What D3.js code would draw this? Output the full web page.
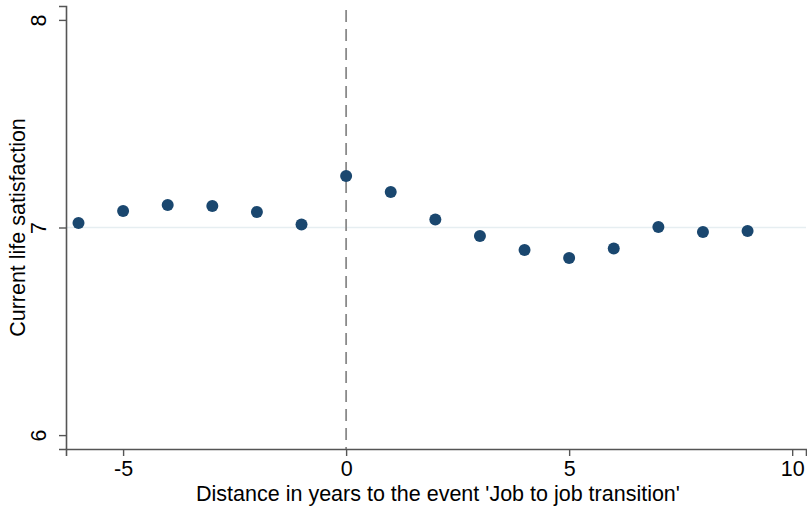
<!DOCTYPE html>
<html>
<head>
<meta charset="utf-8">
<script src="https://cdn.jsdelivr.net/npm/d3@7"></script>
<style>
  html, body { margin: 0; padding: 0; background: #fff; }
  svg { display: block; font-family: "Liberation Sans", Arial, Helvetica, sans-serif; }
</style>
</head>
<body>
<svg id="chart" width="807" height="507"></svg>
<script>
// Years relative to the event and mean life satisfaction in each year
const years = [-6, -5, -4, -3, -2, -1, 0, 1, 2, 3, 4, 5, 6, 7, 8, 9];
const satisfaction = [7.022, 7.080, 7.108, 7.104, 7.075, 7.014, 7.248, 7.171, 7.039, 6.959, 6.892, 6.853, 6.899, 7.002, 6.978, 6.983];
const xTicks = [-5, 0, 5, 10];
const yTicks = [6, 7, 8];
const referenceLevel = 7;
const eventYear = 0;
const xTitle = "Distance in years to the event 'Job to job transition'";
const yTitle = "Current life satisfaction";

(function draw() {
  const svg = d3.select("#chart");
  const plotLeft = 66, plotRight = 806, plotTop = 6, plotBottom = 449;
  const fontSize = 21.5;

  const x = d3.scaleLinear().domain([-6.28, 10.31]).range([plotLeft, plotRight]);
  const y = d3.scaleLinear().domain([5.933, 8.067]).range([plotBottom, plotTop]);

  const axisColor = "#555";

  // horizontal reference line at the overall level
  svg.append("line")
    .attr("x1", plotLeft).attr("x2", plotRight)
    .attr("y1", y(referenceLevel)).attr("y2", y(referenceLevel))
    .attr("stroke", "#e6eef1").attr("stroke-width", 1.6);

  // dashed marker at the event year
  svg.append("line")
    .attr("x1", x(eventYear)).attr("x2", x(eventYear))
    .attr("y1", plotTop + 4).attr("y2", plotBottom)
    .attr("stroke", "#8a8a8a").attr("stroke-width", 1.8)
    .attr("stroke-dasharray", "12,7");

  // x axis
  const xAxis = svg.append("g")
    .attr("transform", `translate(0,${plotBottom})`)
    .call(d3.axisBottom(x).tickValues(xTicks).tickSize(7).tickPadding(5).tickFormat(d3.format("d")));
  xAxis.select(".domain").attr("stroke", axisColor).attr("stroke-width", 1.6);
  xAxis.selectAll(".tick line").attr("stroke", axisColor).attr("stroke-width", 1.4);
  xAxis.selectAll(".tick text")
    .attr("font-size", fontSize).attr("fill", "#000")
    .attr("font-family", "'Liberation Sans', Arial, sans-serif")
    .text(d => d < 0 ? "-" + Math.abs(d) : d);

  // y axis with rotated tick labels
  const yAxis = svg.append("g")
    .attr("transform", `translate(${plotLeft},0)`)
    .call(d3.axisLeft(y).tickValues(yTicks).tickSize(7).tickFormat(d3.format("d")));
  yAxis.select(".domain").attr("stroke", axisColor).attr("stroke-width", 1.6);
  yAxis.selectAll(".tick line").attr("stroke", axisColor).attr("stroke-width", 1.4);
  yAxis.selectAll(".tick text")
    .attr("font-size", fontSize).attr("fill", "#000")
    .attr("font-family", "'Liberation Sans', Arial, sans-serif")
    .attr("x", null).attr("dy", null)
    .attr("text-anchor", "middle")
    .attr("transform", "translate(-26,0) rotate(-90)")
    .attr("dominant-baseline", "middle");

  // points
  svg.append("g").selectAll("circle")
    .data(years.map((yr, i) => ({ yr, v: satisfaction[i] })))
    .join("circle")
    .attr("cx", d => x(d.yr))
    .attr("cy", d => y(d.v))
    .attr("r", 6)
    .attr("fill", "#1a476f");

  // axis titles
  svg.append("text")
    .attr("x", 438).attr("y", 501)
    .attr("text-anchor", "middle")
    .attr("font-size", fontSize).attr("fill", "#000")
    .text(xTitle);

  svg.append("text")
    .attr("transform", `translate(25,${(plotTop + plotBottom) / 2}) rotate(-90)`)
    .attr("text-anchor", "middle")
    .attr("font-size", fontSize).attr("fill", "#000")
    .text(yTitle);
})();
</script>
</body>
</html>
